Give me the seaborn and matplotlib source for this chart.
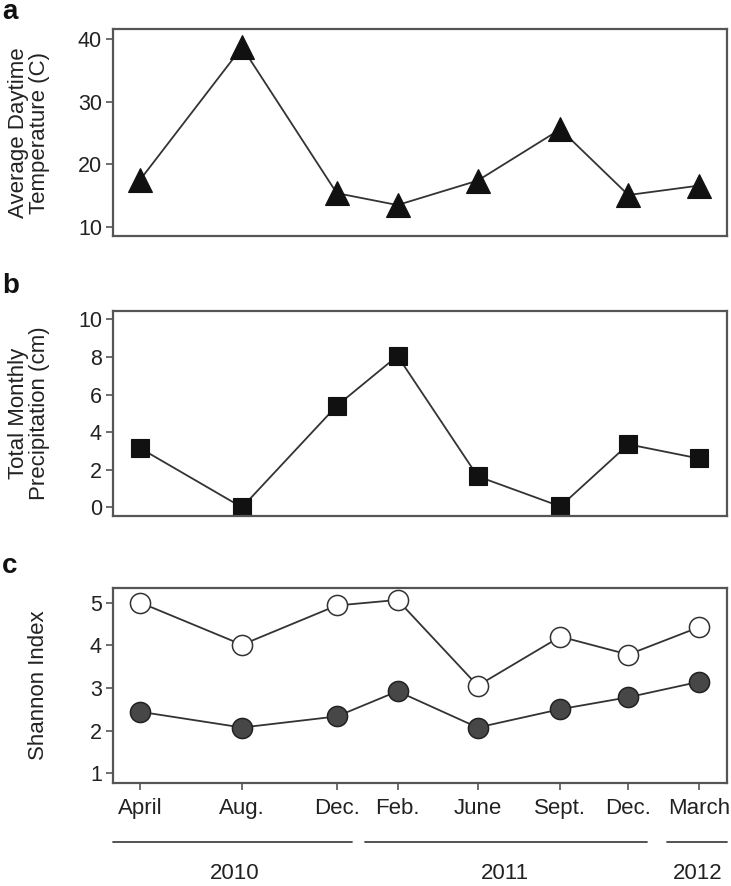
import matplotlib
matplotlib.use("Agg")
import matplotlib.pyplot as plt
import seaborn as sns
import pandas as pd

sns.set_theme(style="white")
plt.rcParams['font.family'] = ['Liberation Sans', 'DejaVu Sans']

# ---- data ----
months = ["April", "Aug.", "Dec.", "Feb.", "June", "Sept.", "Dec.", "March"]
# sampling time, months after April 2010
sample_time = [0.0, 4.2, 8.1, 10.6, 13.9, 17.3, 20.1, 23.0]
temperature = [17.5, 38.7, 15.4, 13.5, 17.4, 25.6, 15.1, 16.6]
precipitation = [3.15, 0.0, 5.4, 8.05, 1.65, 0.05, 3.35, 2.6]
shannon_open = [5.0, 4.01, 4.93, 5.06, 3.05, 4.2, 3.78, 4.42]
shannon_filled = [2.44, 2.07, 2.33, 2.92, 2.07, 2.5, 2.78, 3.14]
years = ["2010", "2011", "2012"]

df = pd.DataFrame({"t": sample_time, "temp": temperature, "prec": precipitation,
                   "open": shannon_open, "filled": shannon_filled})

W, H = 731, 886
fig = plt.figure(figsize=(W / 100, H / 100), dpi=100)

def axes_px(top, bottom, left=113, right=727):
    return fig.add_axes([left / W, 1 - bottom / H, (right - left) / W, (bottom - top) / H])

ax_a = axes_px(29, 236)
ax_b = axes_px(311, 516)
ax_c = axes_px(588, 783)

line_col = "#333333"
frame_col = "#555555"
text_col = "#222222"
xlim = (-1.11, 24.16)
FS = 16

sns.lineplot(data=df, x="t", y="temp", ax=ax_a, color=line_col, lw=1.3,
             marker="^", markersize=17, markerfacecolor="#111111",
             markeredgecolor="#111111", markeredgewidth=0.8)
ax_a.set_ylim(8.56, 41.6)
ax_a.set_yticks([10, 20, 30, 40])
ax_a.set_ylabel("Average Daytime\nTemperature (C)", fontsize=FS, linespacing=1.0)

sns.lineplot(data=df, x="t", y="prec", ax=ax_b, color=line_col, lw=1.3,
             marker="s", markersize=13, markerfacecolor="#111111",
             markeredgecolor="#111111", markeredgewidth=0.8)
ax_b.set_ylim(-0.46, 10.44)
ax_b.set_yticks([0, 2, 4, 6, 8, 10])
ax_b.set_ylabel("Total Monthly\nPrecipitation (cm)", fontsize=FS, linespacing=1.0)

sns.lineplot(data=df, x="t", y="open", ax=ax_c, color=line_col, lw=1.3,
             marker="o", markersize=14.5, markerfacecolor="white",
             markeredgecolor="#333333", markeredgewidth=1.1)
sns.lineplot(data=df, x="t", y="filled", ax=ax_c, color=line_col, lw=1.3,
             marker="o", markersize=14.5, markerfacecolor="#474747",
             markeredgecolor="#222222", markeredgewidth=1.1)
ax_c.set_ylim(0.77, 5.34)
ax_c.set_yticks([1, 2, 3, 4, 5])
ax_c.set_ylabel("Shannon Index", fontsize=FS)

for ax in (ax_a, ax_b, ax_c):
    ax.set_xlim(*xlim)
    ax.set_xlabel("")
    for s in ax.spines.values():
        s.set_color(frame_col)
        s.set_linewidth(1.6)
    ax.tick_params(axis="y", direction="out", length=5, width=1.2, color=frame_col,
                   left=True, labelsize=15.5, labelcolor=text_col, pad=3)
    ax.yaxis.label.set_color(text_col)

ax_a.yaxis.set_label_coords((50 - 113) / 614, 0.5)
ax_b.yaxis.set_label_coords((50 - 113) / 614, 0.5)
ax_c.yaxis.set_label_coords((49 - 113) / 614, 0.5)

ax_a.set_xticks([])
ax_b.set_xticks([])
ax_c.set_xticks(sample_time)
ax_c.set_xticklabels(months)
ax_c.tick_params(axis="x", direction="out", length=5, width=1.2, color=frame_col,
                 bottom=True, labelsize=FS, labelcolor=text_col, pad=6)

# year brackets
year_spans = [(0.0, 0.389), (0.41, 0.87), (0.902, 1.0)]
year_centers = [0.198, 0.638, 0.952]
for (x0, x1), xc, yr in zip(year_spans, year_centers, years):
    ax_c.plot([x0, x1], [-0.30, -0.30], transform=ax_c.transAxes, clip_on=False,
              color="#444444", lw=1.3)
    ax_c.text(xc, -0.462, yr, transform=ax_c.transAxes, ha="center", va="center",
              fontsize=FS, color=text_col)

# panel letters
for lab, ypx in zip(["a", "b", "c"], [19, 293, 573]):
    fig.text(2 / W, 1 - ypx / H, lab, fontsize=20, fontweight="bold",
             ha="left", va="baseline", color="#111111")

fig.savefig("out.png", dpi=100)
